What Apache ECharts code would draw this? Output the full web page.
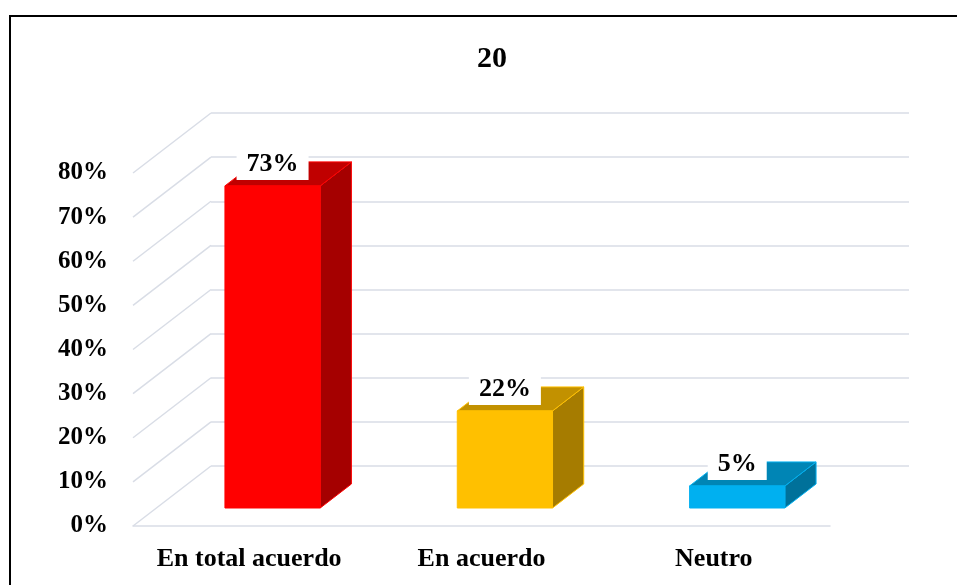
<!DOCTYPE html>
<html>
<head>
<meta charset="utf-8">
<script src="https://cdn.jsdelivr.net/npm/echarts@6/dist/echarts.min.js"></script>
<style>
  html, body { margin: 0; padding: 0; background: #fff; }
  #chart { width: 957px; height: 585px; }
</style>
</head>
<body>
<div id="chart"></div>
<script>
// data
var categories = ["En total acuerdo", "En acuerdo", "Neutro"];
var values = [0.73, 0.22, 0.05];
var yTicks = [0, 0.1, 0.2, 0.3, 0.4, 0.5, 0.6, 0.7, 0.8];
var titleText = "20";

// face colours per bar: front, top, side
var faces = [
  ["#FF0000", "#C00000", "#A50000"],
  ["#FFC000", "#C29100", "#A67C00"],
  ["#00B0F0", "#0085B5", "#00719A"]
];

// 3d depth of the plot box (front plane -> back wall)
var DX = 78, DY = -60;
var FONT = "Liberation Serif";
var GRIDC = "#D9DDE6";

var pct = function (v) { return Math.round(v * 100) + "%"; };

var chart = echarts.init(document.getElementById("chart"));

chart.setOption({
  animation: false,
  title: {
    text: titleText,
    left: 472,
    top: 39,
    textStyle: { fontFamily: FONT, fontSize: 30, fontWeight: "bold", color: "#000" }
  },
  graphic: [{
    type: "rect",
    shape: { x: 10, y: 16, width: 980, height: 620 },
    style: { fill: null, stroke: "#000", lineWidth: 2 },
    silent: true
  }],
  grid: [
    { left: 133, top: 173, width: 697, height: 353 },
    { left: 211, top: 113, width: 698, height: 353 }
  ],
  xAxis: [{
    type: "category",
    gridIndex: 0,
    data: categories,
    axisTick: { show: false },
    axisLine: { lineStyle: { color: GRIDC, width: 1.5 } },
    axisLabel: {
      interval: 0,
      margin: 20,
      fontFamily: FONT, fontSize: 26, fontWeight: "bold", color: "#000"
    }
  }, {
    type: "category",
    gridIndex: 1,
    data: categories,
    show: false
  }],
  yAxis: [{
    type: "value",
    gridIndex: 0,
    min: 0, max: 0.8, interval: 0.1,
    splitLine: { show: false },
    axisLine: { show: false },
    axisTick: { show: false },
    axisLabel: {
      margin: 25,
      formatter: pct,
      fontFamily: FONT, fontSize: 25, fontWeight: "bold", color: "#000"
    }
  }, {
    type: "value",
    gridIndex: 1,
    min: 0, max: 0.8, interval: 0.1,
    axisLine: { show: false },
    axisTick: { show: false },
    axisLabel: { show: false },
    splitLine: { lineStyle: { color: GRIDC, width: 1.5 } }
  }],
  series: [{
    // side wall lines: from each front tick up to the back wall
    type: "custom",
    xAxisIndex: 0, yAxisIndex: 0,
    z: 1,
    silent: true,
    data: yTicks.map(function (t) { return [0, t]; }),
    renderItem: function (params, api) {
      var y = api.coord([0, api.value(1)])[1];
      var x = params.coordSys.x;
      return {
        type: "line",
        shape: { x1: x, y1: y, x2: x + DX, y2: y + DY },
        style: { stroke: GRIDC, lineWidth: 1.5 }
      };
    }
  }, {
    type: "custom",
    xAxisIndex: 0, yAxisIndex: 0,
    z: 3,
    data: values.map(function (v, i) { return [i, v]; }),
    renderItem: function (params, api) {
      var i = api.value(0);
      var base = api.coord([i, 0]);
      var top = api.coord([i, api.value(1)]);
      var bw = api.size([1, 0])[0] * 0.41;
      var f0 = 0.3, f1 = 0.7;
      var x0 = base[0] - bw / 2 + f0 * DX;
      var x1 = x0 + bw;
      var yb = base[1] + f0 * DY;
      var yt = top[1] + f0 * DY;
      var ox = (f1 - f0) * DX, oy = (f1 - f0) * DY;
      var c = faces[i];
      var edge = { stroke: c[0], lineWidth: 1, lineJoin: "round" };
      return {
        type: "group",
        children: [{
          type: "polygon",
          shape: { points: [[x1, yb], [x1 + ox, yb + oy], [x1 + ox, yt + oy], [x1, yt]] },
          style: Object.assign({ fill: c[2] }, edge)
        }, {
          type: "polygon",
          shape: { points: [[x0, yt], [x1, yt], [x1 + ox, yt + oy], [x0 + ox, yt + oy]] },
          style: Object.assign({ fill: c[1] }, edge)
        }, {
          type: "rect",
          shape: { x: x0, y: yt, width: bw, height: yb - yt },
          style: Object.assign({ fill: c[0] }, edge)
        }, {
          type: "text",
          x: (x0 + x1) / 2,
          y: yt + oy + 2,
          style: {
            text: pct(api.value(1)),
            align: "center",
            verticalAlign: "middle",
            fontFamily: FONT, fontSize: 26, fontWeight: "bold", fill: "#000",
            backgroundColor: "#fff",
            padding: [4, 10, 2, 10]
          }
        }]
      };
    }
  }]
});
</script>
</body>
</html>
